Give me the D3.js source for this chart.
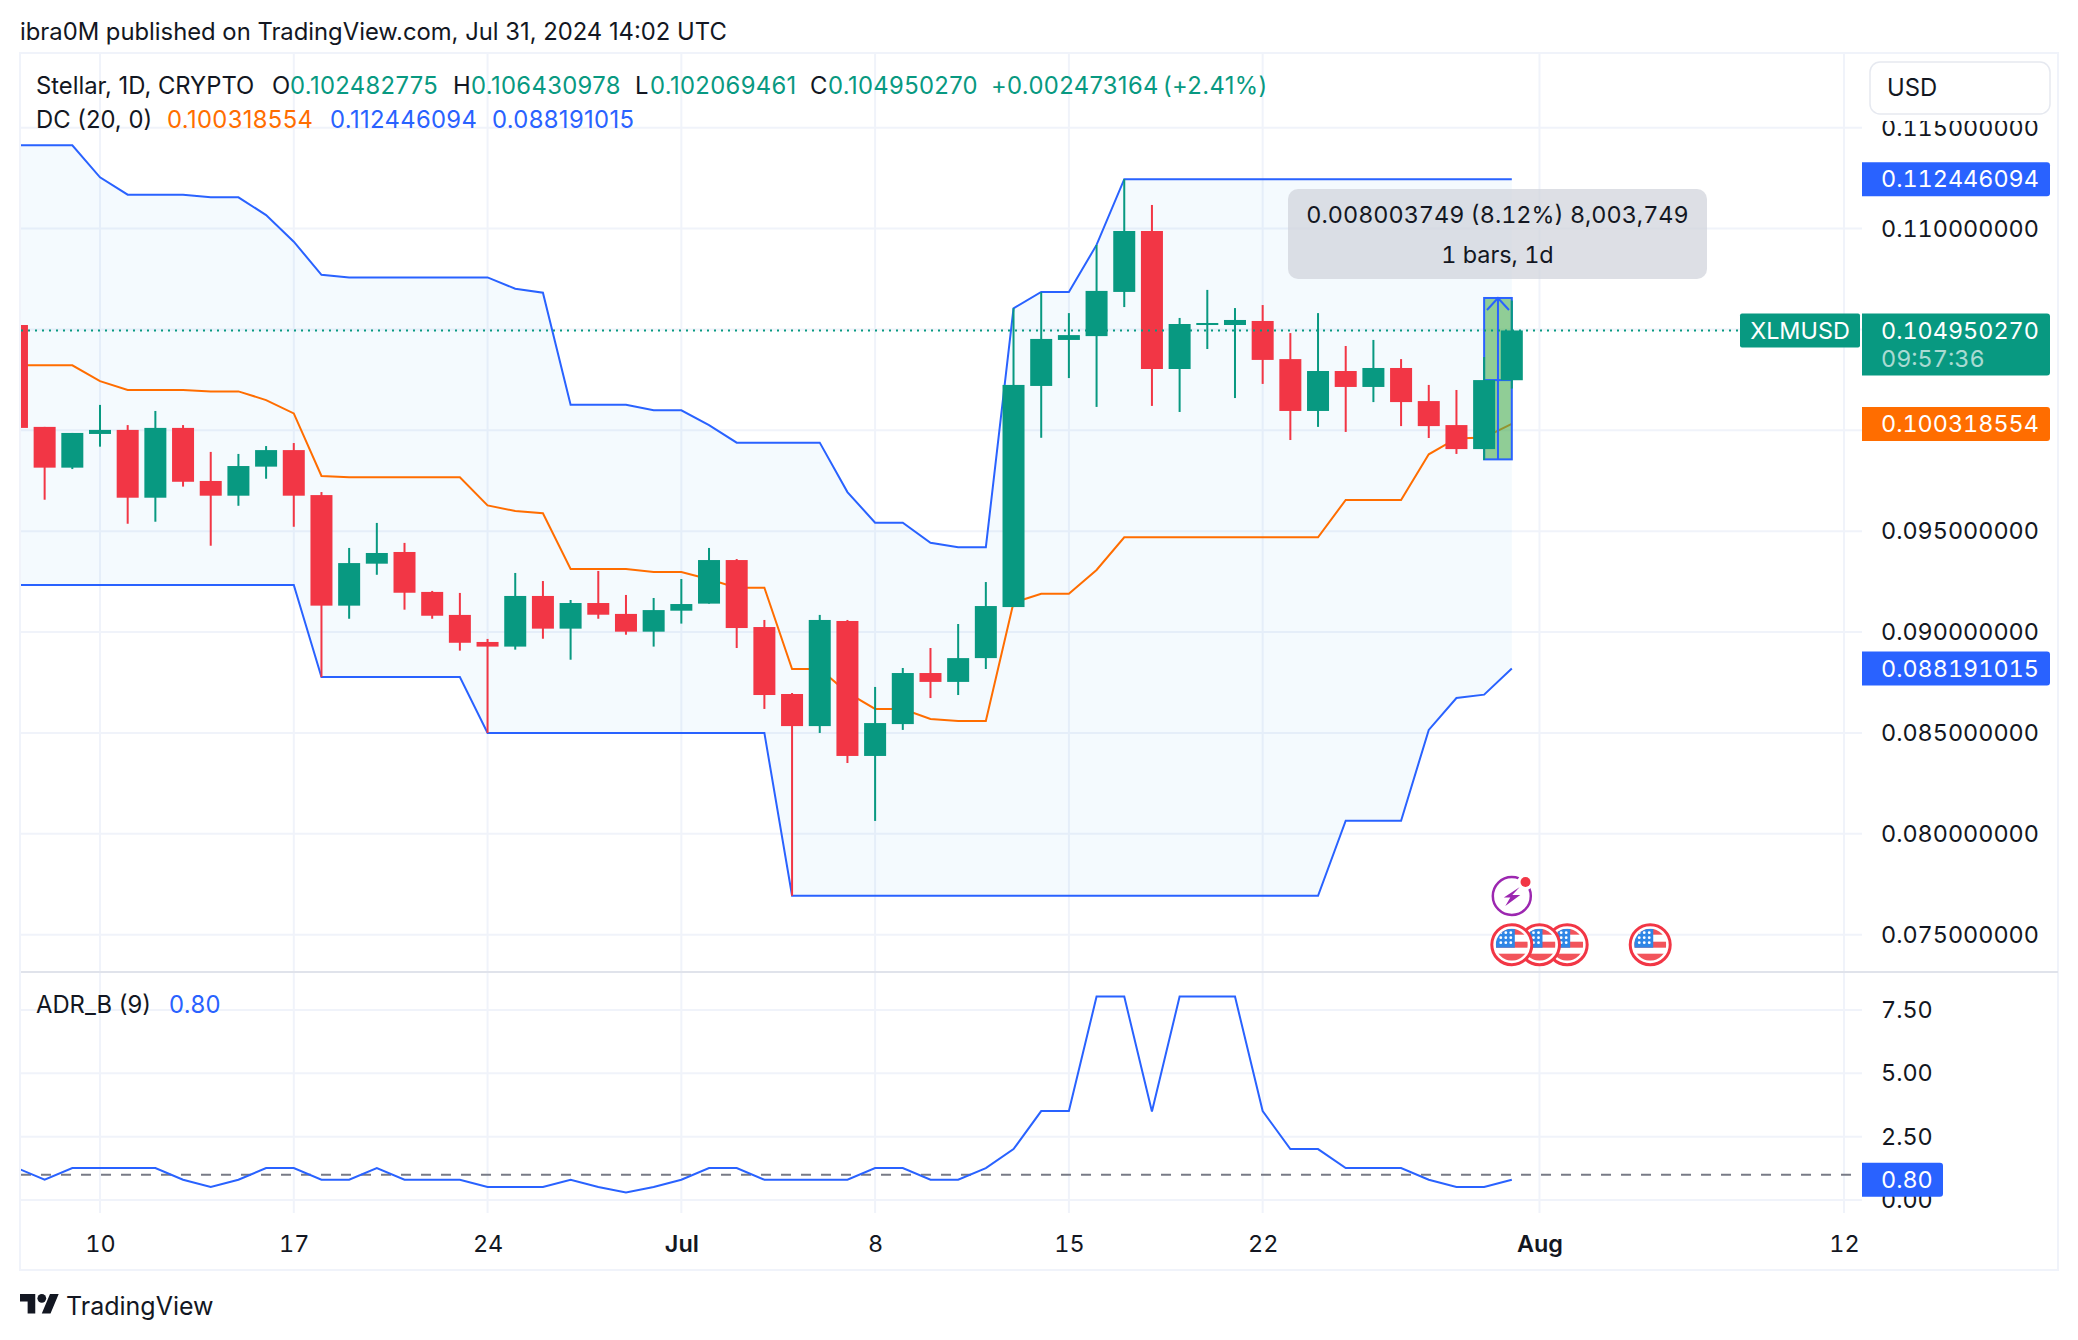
<!DOCTYPE html>
<html>
<head>
<meta charset="utf-8">
<title>XLMUSD</title>
<script src="https://cdn.jsdelivr.net/npm/d3@7/dist/d3.min.js"></script>
<style>
  body { margin: 0; background: #fff; }
  svg { display: block; }
  text { font-family: Inter, "Noto Sans", sans-serif; fill: #131722; }
  .num text, text.num { font-variant-numeric: tabular-nums; }
</style>
</head>
<body>
<svg id="chart" width="2078" height="1340"></svg>
<script>
// one value per day from Jun 7 to Jul 31 2024
const firstDay = "2024-06-07";
const opens = [.10522,.10017,.09815,.09982,.10002,.09666,.10012,.09749,.09676,.09820,.09902,.09679,.09131,.09339,.09397,.09199,.09085,.08951,.08928,.09179,.09017,.09144,.09090,.09002,.09106,.09141,.09357,.09025,.08693,.08534,.09055,.08386,.08544,.08797,.08753,.08871,.09124,.10220,.10448,.10467,.10686,.10988,.10304,.10522,.10522,.10542,.10353,.10096,.10294,.10215,.10309,.10145,.10026,.09907,.102482775];
const highs = [.10522,.10017,.09987,.10126,.10026,.10096,.10026,.09893,.09883,.09922,.09937,.09694,.09417,.09541,.09442,.09204,.09194,.08966,.09293,.09253,.09159,.09303,.09184,.09169,.09263,.09417,.09362,.09060,.08698,.09085,.09060,.08728,.08822,.08921,.09040,.09248,.10605,.10684,.10581,.10919,.11245,.11117,.10557,.10696,.10606,.10621,.10482,.10581,.10418,.10448,.10353,.10225,.10200,.10363,.106430978];
const lows = [.10012,.09656,.09808,.09919,.09537,.09547,.09721,.09428,.09626,.09760,.09522,.08777,.09066,.09284,.09111,.09066,.08908,.08500,.08913,.08967,.08863,.09066,.08987,.08928,.09042,.09141,.08921,.08619,.07693,.08500,.08351,.08064,.08515,.08673,.08688,.08817,.09124,.09963,.10259,.10116,.10611,.10121,.10091,.10403,.10160,.10230,.09952,.10017,.09992,.10140,.10021,.09962,.09883,.09853,.102069461];
const closes = [.10012,.09815,.09987,.10002,.09666,.10012,.09745,.09676,.09823,.09902,.09676,.09131,.09342,.09392,.09195,.09081,.08947,.08928,.09179,.09017,.09144,.09086,.09002,.09109,.09139,.09357,.09020,.08688,.08534,.09060,.08386,.08549,.08797,.08753,.08871,.09129,.10225,.10453,.10472,.10691,.10988,.10304,.10527,.10532,.10547,.10349,.10096,.10294,.10215,.10309,.10140,.10021,.09907,.10249,.10495027];

const dcUpper = [.11413,.11413,.11413,.11254,.11168,.11168,.11168,.11155,.11155,.11067,.10935,.10771,.10758,.10758,.10758,.10758,.10758,.10758,.10702,.10682,.10127,.10127,.10127,.10099,.10099,.10026,.09939,.09939,.09939,.09939,.09694,.09542,.09542,.09443,.0942,.0942,.10605,.10686,.10686,.10919,.112446094,.112446094,.112446094,.112446094,.112446094,.112446094,.112446094,.112446094,.112446094,.112446094,.112446094,.112446094,.112446094,.112446094,.112446094];
const dcMiddle = [.10322,.10322,.10322,.10244,.102,.102,.102,.10193,.10193,.1015,.10084,.09774,.09767,.09767,.09767,.09767,.09767,.09628,.096,.09589,.09313,.09313,.09313,.09298,.09298,.09262,.0922,.0922,.08817,.08817,.087,.08619,.08619,.08569,.08559,.08559,.09146,.0919,.0919,.09308,.0947,.0947,.0947,.0947,.0947,.0947,.0947,.0947,.09655,.09655,.09655,.09881,.0996,.09965,.100318554];
const dcLower = [.09233,.09233,.09233,.09233,.09233,.09233,.09233,.09233,.09233,.09233,.09233,.08777,.08777,.08777,.08777,.08777,.08777,.085,.085,.085,.085,.085,.085,.085,.085,.085,.085,.085,.07693,.07693,.07693,.07693,.07693,.07693,.07693,.07693,.07693,.07693,.07693,.07693,.07693,.07693,.07693,.07693,.07693,.07693,.07693,.07693,.08065,.08065,.08065,.08515,.08673,.0869,.088191015];
const adr = [1.26,.8,1.26,1.26,1.26,1.26,.8,.51,.8,1.26,1.26,.8,.8,1.26,.8,.8,.8,.51,.51,.51,.8,.51,.3,.51,.8,1.26,1.26,.8,.8,.8,.8,1.26,1.26,.8,.8,1.26,2.01,3.51,3.51,8.03,8.03,3.49,8.03,8.03,8.03,3.51,2.01,2.01,1.26,1.26,1.26,.8,.51,.51,.8];

const priceGrid = [0.075, 0.08, 0.085, 0.09, 0.095, 0.1, 0.105, 0.11, 0.115];
// 0.100 and 0.105 are hidden behind the price tags
const priceTicks = [0.075, 0.08, 0.085, 0.09, 0.095, 0.11, 0.115];
const adrTicks = [0, 2.5, 5, 7.5];
const adrLevel = 1;
const timeTicks = ["2024-06-10","2024-06-17","2024-06-24","2024-07-01","2024-07-08","2024-07-15","2024-07-22","2024-08-01","2024-08-12"];
const timeLabels = ["10","17","24","Jul","8","15","22","Aug","12"];
const eventDays = ["2024-08-05","2024-08-02","2024-08-01","2024-07-31"];
const measureBars = [53, 54];
const measureRange = [0.09856, 0.10656, 0.10249];

const GREEN = "#089981", RED = "#f23645", BLUE = "#2962ff", ORANGE = "#ff6d00", GRID = "#f0f3fa";
const plotLeft = 21, plotRight = 2058, axisX = 1862, plotTop = 54, sep = 972, paneBottom = 1213, plotBottom = 1270;
const FONT = 23.8, AXIS_FONT = 23.4;

const svg = d3.select("#chart");
const days = d3.range(opens.length).map(i => d3.utcDay.offset(new Date(firstDay), i));

const x = d3.scaleUtc().domain([new Date("2024-06-10"), new Date("2024-08-12")]).range([100, 1844]);
const y = d3.scaleLinear().domain([0.075, 0.115]).range([934.7, 127.7]);
const yAdr = d3.scaleLinear().domain([0, 7.5]).range([1200, 1010]);

svg.append("defs").append("clipPath").attr("id", "plot")
  .append("rect").attr("x", plotLeft).attr("y", plotTop).attr("width", axisX - plotLeft).attr("height", sep - plotTop);
svg.select("defs").append("clipPath").attr("id", "flagClip")
  .append("circle").attr("r", 16);

// grid
const grid = svg.append("g").attr("stroke", GRID).attr("stroke-width", 2);
grid.selectAll("line.v").data(timeTicks).join("line").attr("class", "v")
  .attr("x1", d => x(new Date(d))).attr("x2", d => x(new Date(d)))
  .attr("y1", plotTop).attr("y2", paneBottom);
grid.selectAll("line.p").data(priceGrid).join("line").attr("class", "p")
  .attr("x1", plotLeft).attr("x2", axisX).attr("y1", d => y(d)).attr("y2", d => y(d));
grid.selectAll("line.a").data(adrTicks).join("line").attr("class", "a")
  .attr("x1", plotLeft).attr("x2", axisX).attr("y1", d => yAdr(d)).attr("y2", d => yAdr(d));

// frame
svg.append("rect").attr("x", plotLeft - 1).attr("y", plotTop - 1).attr("width", plotRight - plotLeft + 1).attr("height", plotBottom - plotTop + 1)
  .attr("fill", "none").attr("stroke", GRID).attr("stroke-width", 2);
svg.append("line").attr("x1", plotLeft).attr("x2", plotRight).attr("y1", sep).attr("y2", sep)
  .attr("stroke", "#e0e3eb").attr("stroke-width", 2);

const plot = svg.append("g").attr("clip-path", "url(#plot)");

// donchian channel
const area = d3.area().x((d, i) => x(days[i])).y0((d, i) => y(dcLower[i])).y1(d => y(d));
plot.append("path").datum(dcUpper).attr("d", area).attr("fill", "rgba(33,150,243,0.05)");
const line = d3.line().x((d, i) => x(days[i])).y(d => y(d));
[[dcUpper, BLUE], [dcMiddle, ORANGE], [dcLower, BLUE]].forEach(s => {
  plot.append("path").datum(s[0]).attr("d", line).attr("fill", "none")
    .attr("stroke", s[1]).attr("stroke-width", 2);
});

// date & price range drawing, sits under the candles
const mx0 = x(days[measureBars[0]]), mx1 = x(days[measureBars[1]]);
const mTop = y(measureRange[1]), mBot = y(measureRange[0]), mMid = (mx0 + mx1) / 2;
const measure = plot.append("g");
measure.append("rect").attr("x", mx0).attr("y", mTop).attr("width", mx1 - mx0).attr("height", mBot - mTop)
  .attr("fill", "rgba(76,175,80,0.6)").attr("stroke", BLUE).attr("stroke-width", 2);
measure.append("line").attr("x1", mMid).attr("x2", mMid).attr("y1", mTop).attr("y2", mBot)
  .attr("stroke", BLUE).attr("stroke-width", 2);
measure.append("line").attr("x1", mx0).attr("x2", mx1).attr("y1", y(measureRange[2])).attr("y2", y(measureRange[2]))
  .attr("stroke", BLUE).attr("stroke-width", 2);
measure.append("path").attr("d", `M${mMid - 11},${mTop + 12}L${mMid},${mTop}L${mMid + 11},${mTop + 12}`)
  .attr("fill", "none").attr("stroke", BLUE).attr("stroke-width", 2);

// candles
const candles = plot.selectAll("g.candle").data(days).join("g").attr("class", "candle")
  .attr("fill", (d, i) => closes[i] >= opens[i] ? GREEN : RED);
candles.append("rect").attr("x", d => x(d) - 1).attr("width", 2)
  .attr("y", (d, i) => y(highs[i])).attr("height", (d, i) => y(lows[i]) - y(highs[i]));
candles.append("rect").attr("x", d => x(d) - 11).attr("width", 22)
  .attr("y", (d, i) => y(Math.max(opens[i], closes[i])))
  .attr("height", (d, i) => Math.abs(y(opens[i]) - y(closes[i])));

// last price line
const lastY = y(closes[closes.length - 1]);
svg.append("line").attr("x1", plotLeft).attr("x2", 1740).attr("y1", lastY).attr("y2", lastY)
  .attr("stroke", GREEN).attr("stroke-width", 2).attr("stroke-dasharray", "2 5");

// adr pane
svg.append("line").attr("x1", plotLeft).attr("x2", 1856).attr("y1", yAdr(adrLevel)).attr("y2", yAdr(adrLevel))
  .attr("stroke", "#787b86").attr("stroke-width", 2).attr("stroke-dasharray", "10 10");
const adrLine = d3.line().x((d, i) => x(days[i])).y(d => yAdr(d));
svg.append("g").attr("clip-path", "url(#adrClip)").append("path").datum(adr)
  .attr("d", adrLine).attr("fill", "none").attr("stroke", BLUE).attr("stroke-width", 2);
svg.select("defs").append("clipPath").attr("id", "adrClip")
  .append("rect").attr("x", plotLeft).attr("y", sep).attr("width", axisX - plotLeft).attr("height", paneBottom - sep);

// axes
const priceAxis = svg.append("g").attr("class", "num").attr("transform", `translate(${axisX + 19},0)`)
  .call(d3.axisRight(y).tickValues(priceTicks).tickSize(0).tickPadding(0).tickFormat(d3.format(".9f")));
const adrAxis = svg.append("g").attr("class", "num").attr("transform", `translate(${axisX + 19},0)`)
  .call(d3.axisRight(yAdr).tickValues(adrTicks).tickSize(0).tickPadding(0).tickFormat(d3.format(".2f")));
const timeAxis = svg.append("g").attr("class", "num").attr("transform", "translate(0,1235)")
  .call(d3.axisBottom(x).tickValues(timeTicks.map(d => new Date(d))).tickSize(0).tickPadding(0)
    .tickFormat((d, i) => timeLabels[i]));
[priceAxis, adrAxis, timeAxis].forEach(a => {
  a.select(".domain").remove();
  a.selectAll("text").attr("font-size", AXIS_FONT).style("font-family", "Inter").style("fill", "#131722");
});
timeAxis.selectAll("text").attr("font-weight", (d, i) => timeLabels[i] === "Jul" || timeLabels[i] === "Aug" ? 600 : 400);

// USD box covers the top of the axis
svg.append("rect").attr("x", axisX).attr("y", 55).attr("width", plotRight - axisX - 1).attr("height", 66).attr("fill", "#fff");
svg.append("rect").attr("x", 1870).attr("y", 62).attr("width", 180).attr("height", 52).attr("rx", 10)
  .attr("fill", "#fff").attr("stroke", "#e6e9f0").attr("stroke-width", 1.5);
svg.append("text").attr("x", 1887).attr("y", 96).attr("font-size", FONT).text("USD");

// price labels on the axis
function priceTag(px, py, w, h, color, label) {
  svg.append("path").attr("fill", color)
    .attr("d", `M${px},${py}h${w - 3}q3,0 3,3v${h - 6}q0,3 -3,3h${-(w - 3)}z`);
  svg.append("text").attr("class", "num").attr("x", px + 19).attr("y", py + 17).attr("dy", "0.35em")
    .attr("font-size", AXIS_FONT).style("fill", "#fff").text(label);
}
priceTag(axisX, y(dcUpper[54]) - 17, 188, 34, BLUE, d3.format(".9f")(dcUpper[54]));
priceTag(axisX, lastY - 17, 188, 62, GREEN, d3.format(".9f")(closes[54]));
svg.append("text").attr("class", "num").attr("x", axisX + 19).attr("y", lastY + 28).attr("dy", "0.35em")
  .attr("font-size", AXIS_FONT).style("fill", "#fff").style("opacity", 0.65).text("09:57:36");
priceTag(axisX, y(dcMiddle[54]) - 17, 188, 34, ORANGE, d3.format(".9f")(dcMiddle[54]));
priceTag(axisX, y(dcLower[54]) - 17, 188, 34, BLUE, d3.format(".9f")(dcLower[54]));
priceTag(axisX, yAdr(adr[54]) - 17, 81, 34, BLUE, d3.format(".2f")(adr[54]));
svg.append("rect").attr("x", 1740).attr("y", lastY - 17).attr("width", 120).attr("height", 34).attr("rx", 2).attr("fill", GREEN);
svg.append("text").attr("x", 1800).attr("y", lastY).attr("dy", "0.35em").attr("text-anchor", "middle")
  .attr("font-size", AXIS_FONT).style("fill", "#fff").text("XLMUSD");

// measure tooltip
svg.append("rect").attr("x", 1288).attr("y", 189).attr("width", 419).attr("height", 90).attr("rx", 10)
  .attr("fill", "rgba(209,212,220,0.75)");
svg.append("text").attr("class", "num").attr("x", 1497.5).attr("y", 215).attr("dy", "0.35em").attr("text-anchor", "middle")
  .attr("font-size", AXIS_FONT).text("0.008003749 (8.12%) 8,003,749");
svg.append("text").attr("class", "num").attr("x", 1497.5).attr("y", 255).attr("dy", "0.35em").attr("text-anchor", "middle")
  .attr("font-size", AXIS_FONT).text("1 bars, 1d");

// event markers
const flagY = 944.7;
const flags = svg.selectAll("g.flag").data(eventDays).join("g").attr("class", "flag")
  .attr("transform", d => `translate(${x(new Date(d))},${flagY})`);
flags.append("circle").attr("r", 20).attr("fill", "#fff").attr("stroke", RED).attr("stroke-width", 3);
const flagInner = flags.append("g").attr("clip-path", "url(#flagClip)");
[[-16, 6], [-3, 6], [9, 7]].forEach(s => {
  flagInner.append("rect").attr("x", -16).attr("y", s[0]).attr("width", 32).attr("height", s[1]).attr("fill", "#f2545b");
});
flagInner.append("rect").attr("x", -16).attr("y", -16).attr("width", 19).attr("height", 19).attr("fill", "#2f86e6");
[-12, -7, -2].forEach(sy => [-11, -6, -1].forEach(sx => {
  flagInner.append("circle").attr("cx", sx).attr("cy", sy).attr("r", 1.4).attr("fill", "#fff");
}));

// bolt marker
const boltX = x(new Date("2024-07-31")), boltY = 896;
const bolt = svg.append("g").attr("transform", `translate(${boltX},${boltY})`);
bolt.append("circle").attr("r", 19).attr("fill", "#fff").attr("stroke", "#9c27b0").attr("stroke-width", 2.5);
bolt.append("path").attr("fill", "#9c27b0").attr("d", "M8,-9L-8,1.5L-1.5,1.5L-6.5,10L8.5,-1L0.5,-1Z");
bolt.append("circle").attr("cx", 13.7).attr("cy", -14).attr("r", 8).attr("fill", "#fff");
bolt.append("circle").attr("cx", 13.7).attr("cy", -14).attr("r", 5).attr("fill", RED);

// header and legends
svg.append("text").attr("x", 20).attr("y", 32).attr("dy", "0.35em").attr("font-size", FONT)
  .text("ibra0M published on TradingView.com, Jul 31, 2024 14:02 UTC");

function legend(ly, parts) {
  parts.forEach(p => {
    svg.append("text").attr("x", p[0]).attr("y", ly).attr("dy", "0.35em").attr("font-size", FONT)
      .attr("letter-spacing", p[2] ? 0.35 : 0)
      .style("fill", p[2] || "#131722").text(p[1]);
  });
}
legend(85.5, [
  [36, "Stellar, 1D, CRYPTO"],
  [272, "O"], [290, d3.format(".9f")(opens[54]), GREEN],
  [453, "H"], [471, d3.format(".9f")(highs[54]), GREEN],
  [635, "L"], [650, d3.format(".9f")(lows[54]), GREEN],
  [810, "C"], [828, d3.format(".9f")(closes[54]), GREEN],
  [991, "+0.002473164", GREEN], [1163, "(+2.41%)", GREEN]
]);
legend(119.5, [
  [36, "DC (20, 0)"],
  [167, d3.format(".9f")(dcMiddle[54]), ORANGE],
  [330, d3.format(".9f")(dcUpper[54]), BLUE],
  [492, d3.format(".9f")(dcLower[54]), BLUE]
]);
legend(1005, [[36, "ADR_B (9)"], [169, d3.format(".2f")(adr[54]), BLUE]]);

// logo
const logo = svg.append("g").attr("transform", "translate(20,1289.6) scale(1.09)").attr("fill", "#131722");
logo.append("path").attr("d", "M14 22H7V11H0V4h14v18zM28 22h-8l7.5-18h8L28 22z");
logo.append("circle").attr("cx", 20).attr("cy", 8).attr("r", 4);
svg.append("text").attr("x", 66).attr("y", 1306).attr("dy", "0.35em").attr("font-size", 25).text("TradingView");
</script>
</body>
</html>
